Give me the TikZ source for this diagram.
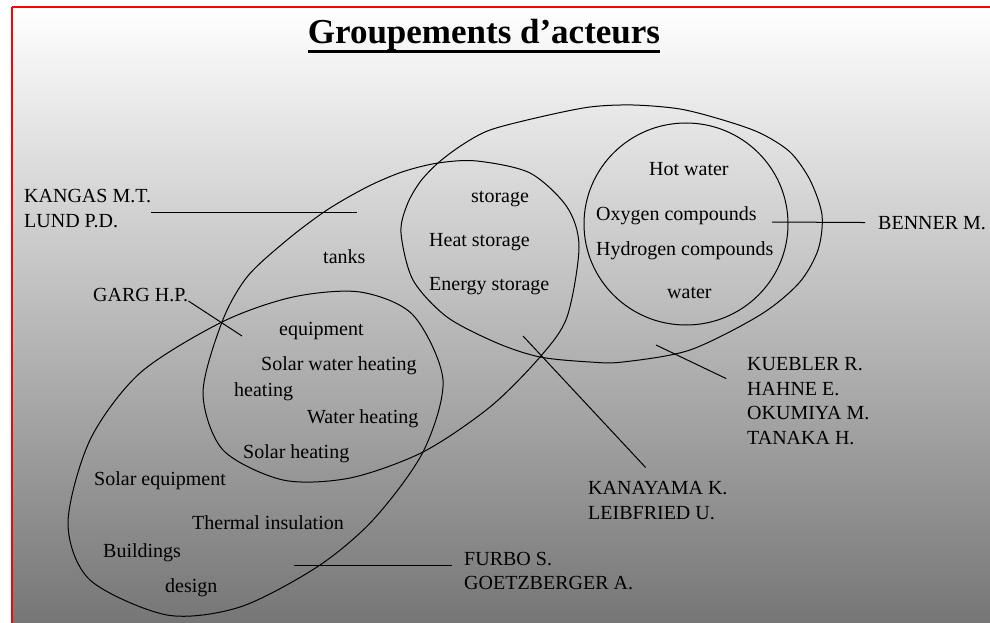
\documentclass[tikz,border=0pt]{standalone}
\usepackage{fontspec}
\setmainfont{Liberation Serif}
\definecolor{bgmid}{RGB}{192,192,192}
\definecolor{bgbot}{RGB}{118,118,118}
\begin{document}
\begin{tikzpicture}[x=1pt, y=-1pt,
  cluster/.style={line width=1pt},
  lead/.style={line width=1pt},
  txt/.style={font=\fontsize{20}{24}\selectfont, inner sep=0pt, anchor=base west}]
  \useasboundingbox (0,0) rectangle (990,623);
  \fill[white] (0,0) rectangle (990,623);
  \shade[top color=white, middle color=bgmid, bottom color=bgbot] (12,7) rectangle (990,623);
  \draw[red, line width=1.2pt] (12,7) -- (990,7);
  \draw[red, line width=1.2pt] (12,7) -- (12,623);

  \node[font=\bfseries\fontsize{35}{42}\selectfont, inner sep=0pt, anchor=base] (title) at (484,44) {Groupements d’acteurs};
  \draw[line width=3pt] ([yshift=-8pt]title.base west) -- ([yshift=-8pt]title.base east);

  \draw[cluster] plot[smooth cycle] coordinates {(401,233) (407,205) (420,182) (438,163) (462,145) (490,130) (540,117) (590,107) (633,105) (680,109) (723,120) (760,133) (790,152) (810,180) (822,215) (818,250) (799,283) (760,315) (690,350) (623,362) (590,362) (540,357) (497,343) (447,317) (413,280)};
  \draw[cluster] plot[smooth cycle] coordinates {(222,322) (247,277) (287,240) (327,210) (367,187) (402,172) (438,163) (477,161) (530,173) (567,207) (579,247) (567,317) (540,357) (490,407) (423,452) (350,478) (283,480) (223,450) (203,393)};
  \draw[cluster] plot[smooth cycle] coordinates {(222,322) (293,297) (360,292) (413,315) (443,380) (423,452) (373,520) (317,567) (240,607) (167,615) (90,580) (68,523) (90,440) (140,373)};
  \draw[cluster] (686,224) circle [x radius=102, y radius=101];

  \node[txt] (tanks) at (323,263) {tanks};
  \node[txt] (equip) at (279,335) {equipment};
  \node[txt] (solarwater) at (261,370) {Solar water heating};
  \node[txt] (heating) at (234,396) {heating};
  \node[txt] (waterheat) at (307,423) {Water heating};
  \node[txt] (solarheat) at (243,458) {Solar heating};
  \node[txt] (storage) at (471,202) {storage};
  \node[txt] (heatstore) at (429,246) {Heat storage};
  \node[txt] (energystore) at (429,290) {Energy storage};
  \node[txt] (hotwater) at (649,175) {Hot water};
  \node[txt] (oxygen) at (596,220) {Oxygen compounds};
  \node[txt] (hydrogen) at (596,255) {Hydrogen compounds};
  \node[txt] (water) at (667,298) {water};
  \node[txt] (solarequip) at (94,485) {Solar equipment};
  \node[txt] (insulation) at (192,529) {Thermal insulation};
  \node[txt] (buildings) at (103,557) {Buildings};
  \node[txt] (design) at (165,592) {design};

  \node[txt] (kangas) at (24,202) {KANGAS M.T.};
  \node[txt] (lund) at (24,227) {LUND P.D.};
  \node[txt] (garg) at (93,301) {GARG H.P.};
  \node[txt] (benner) at (878,229) {BENNER M.};
  \node[txt] (kuebler) at (747,370) {KUEBLER R.};
  \node[txt] (hahne) at (747,395) {HAHNE E.};
  \node[txt] (okumiya) at (747,419) {OKUMIYA M.};
  \node[txt] (tanaka) at (747,444) {TANAKA H.};
  \node[txt] (kanayama) at (588,494) {KANAYAMA K.};
  \node[txt] (leibfried) at (588,519) {LEIBFRIED U.};
  \node[txt] (furbo) at (464,565) {FURBO S.};
  \node[txt] (goetzberger) at (464,589) {GOETZBERGER A.};

  \coordinate (kangastip) at (357,212);
  \coordinate (gargtip) at (242,336);
  \coordinate (bennertip) at (772,222);
  \coordinate (kueblertip) at (656,345);
  \coordinate (kanayamatip) at (523,336);
  \coordinate (furbotip) at (294,565);

  \draw[lead] (kangas.east |- kangastip) -- (kangastip);
  \draw[lead] (garg.base east) -- (gargtip);
  \draw[lead, shorten <=13pt] (benner.west) -- (bennertip);
  \draw[lead, shorten <=23pt] (hahne.west) -- (kueblertip);
  \draw[lead, shorten <=18pt] (kanayama.north) -- (kanayamatip);
  \draw[lead, shorten <=12pt] (furbo.base west) -- (furbotip);
\end{tikzpicture}
\end{document}
